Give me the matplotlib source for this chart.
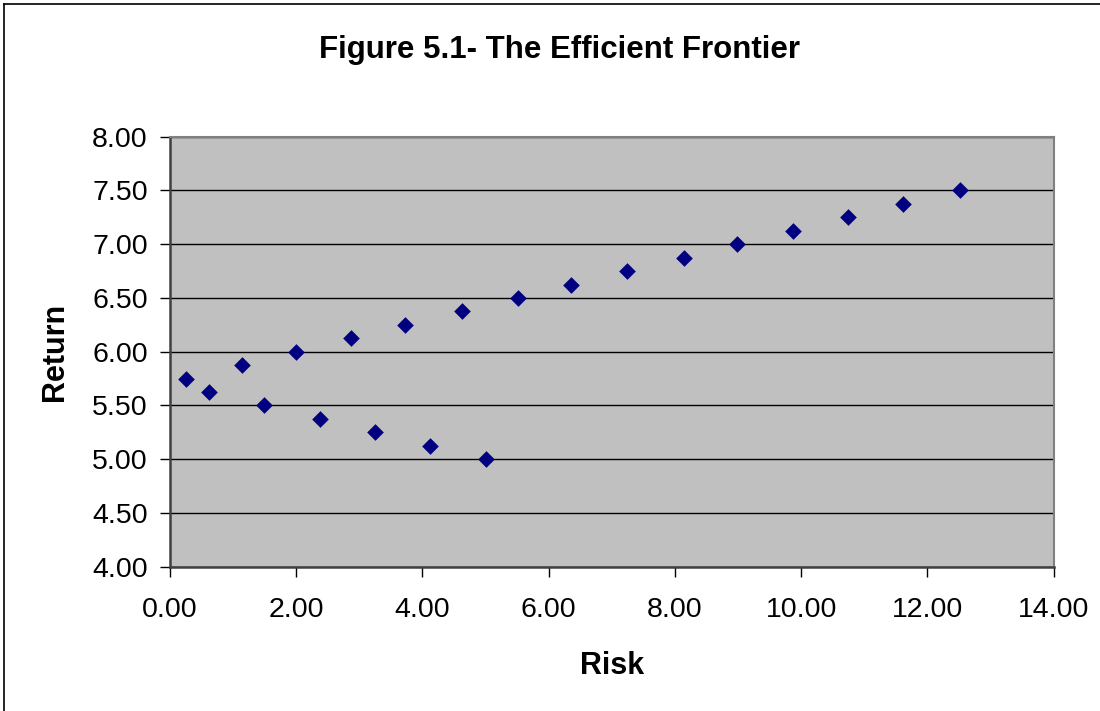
import matplotlib
matplotlib.use("Agg")
import matplotlib.pyplot as plt
from matplotlib.lines import Line2D

plt.rcParams['font.family'] = ['Liberation Sans', 'DejaVu Sans']

# risk / return pairs
risk = [0.25, 0.62, 1.14, 1.49, 2.00, 2.37, 2.87, 3.25, 3.73, 4.12, 4.62,
        5.00, 5.51, 6.36, 7.24, 8.14, 8.99, 9.87, 10.74, 11.62, 12.51]
ret = [5.75, 5.625, 5.875, 5.50, 6.00, 5.375, 6.125, 5.25, 6.25, 5.125, 6.375,
       5.00, 6.50, 6.625, 6.75, 6.875, 7.00, 7.125, 7.25, 7.375, 7.50]

x_ticks = [0, 2, 4, 6, 8, 10, 12, 14]
y_ticks = [4.0, 4.5, 5.0, 5.5, 6.0, 6.5, 7.0, 7.5, 8.0]

fig = plt.figure(figsize=(11, 7.11), dpi=100)
ax = fig.add_axes([170 / 1100, 1 - 566.7 / 711, (1053.7 - 170) / 1100, (566.7 - 136.7) / 711])

# chart border (cut off at right and bottom like the original)
fig.add_artist(Line2D([4 / 1100, 4 / 1100], [0, 1 - 4 / 711], color='black', lw=1.2))
fig.add_artist(Line2D([4 / 1100, 1], [1 - 4 / 711, 1 - 4 / 711], color='black', lw=1.2))

ax.set_facecolor('#C0C0C0')
ax.set_axisbelow(True)
ax.grid(axis='y', color='black', lw=1.0)

ax.scatter(risk, ret, marker='D', s=72, color='#000080', zorder=3, linewidths=0)

ax.set_xlim(0, 14)
ax.set_ylim(4, 8)
ax.set_xticks(x_ticks)
ax.set_yticks(y_ticks)
ax.set_xticklabels([f"{v:.2f}" for v in x_ticks])
ax.set_yticklabels([f"{v:.2f}" for v in y_ticks])
ax.tick_params(direction='out', length=7, width=1, color='black', labelsize=20.5)
ax.tick_params(axis='x', pad=15)
ax.tick_params(axis='y', pad=9)

for side in ['top', 'right']:
    ax.spines[side].set_color('#808080')
    ax.spines[side].set_linewidth(1.5)
for side in ['left', 'bottom']:
    ax.spines[side].set_color('#404040')
    ax.spines[side].set_linewidth(1.8)

ax.set_xlabel('Risk', fontsize=22, fontweight='bold', labelpad=20)
ax.set_ylabel('Return', fontsize=22, fontweight='bold', labelpad=16)

fig.text(560 / 1100, 1 - 50 / 711, 'Figure 5.1- The Efficient Frontier',
         ha='center', va='center', fontsize=22.5, fontweight='bold')

plt.savefig('out.png', dpi=100)
